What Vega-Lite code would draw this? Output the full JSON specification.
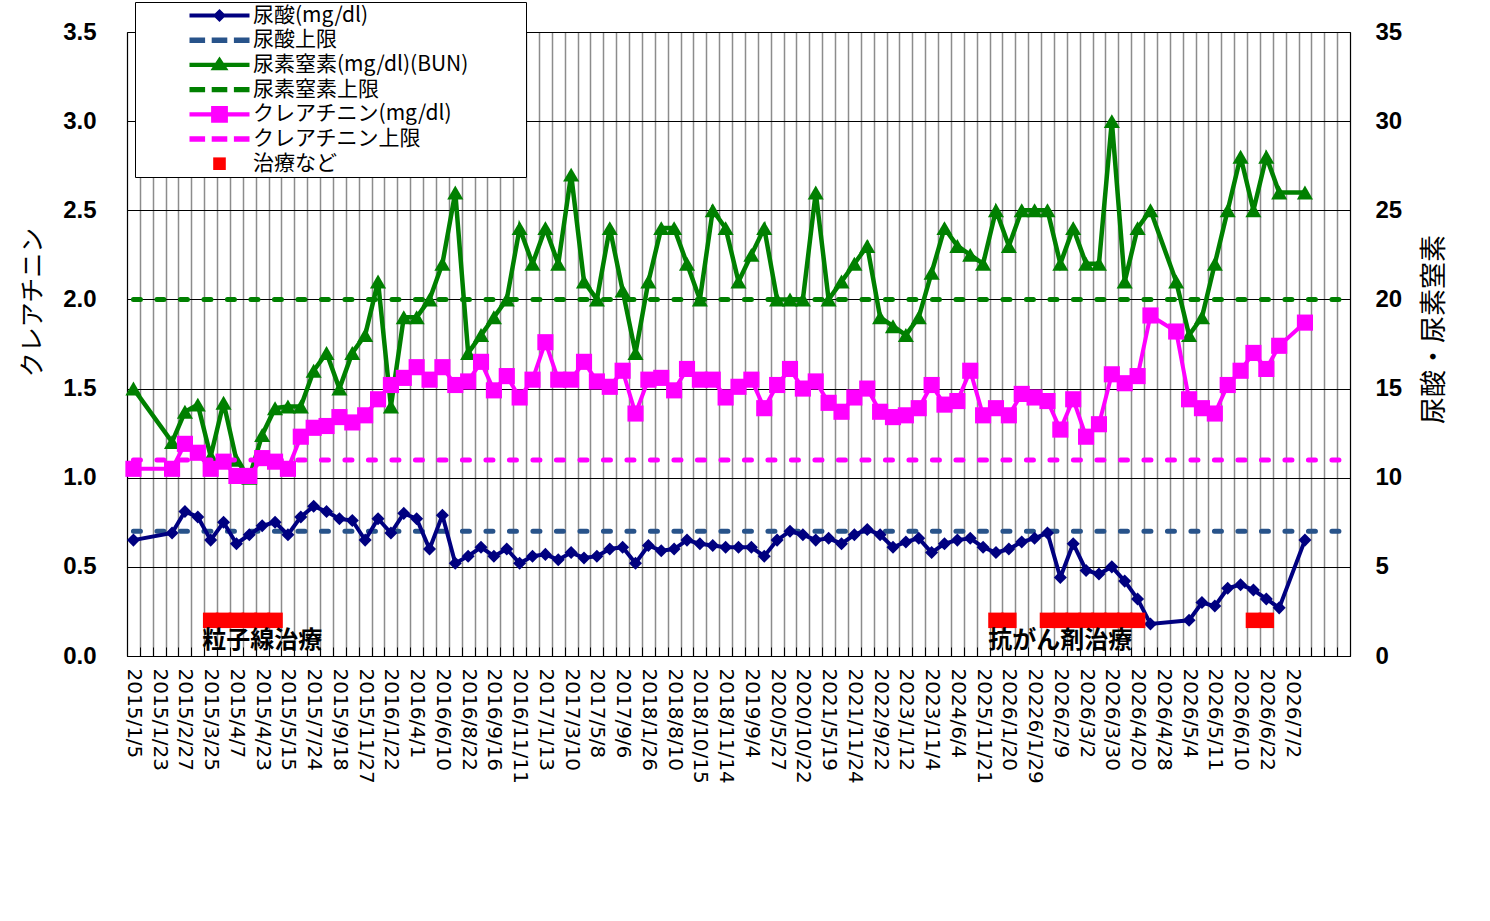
{
  "$schema": "https://vega.github.io/schema/vega-lite/v6.json",
  "width": 1223,
  "height": 624,
  "autosize": "none",
  "padding": {"left": 127, "top": 32, "right": 140, "bottom": 265},
  "background": "#ffffff",
  "datasets": {
    "lab": [
      {"d": "2015/1/5", "ua": 6.5, "bun": 15, "cr": 1.05},
      {"d": "#2"},
      {"d": "2015/1/23"},
      {"d": "#4", "ua": 6.9, "bun": 12, "cr": 1.05},
      {"d": "2015/2/27", "ua": 8.1, "bun": 13.7, "cr": 1.19},
      {"d": "#6", "ua": 7.8, "bun": 14.1, "cr": 1.14},
      {"d": "2015/3/25", "ua": 6.5, "bun": 11.2, "cr": 1.05, "tx": 2},
      {"d": "#8", "ua": 7.5, "bun": 14.2, "cr": 1.09, "tx": 2},
      {"d": "2015/4/7", "ua": 6.3, "bun": 11, "cr": 1.01, "tx": 2},
      {"d": "#10", "ua": 6.8, "bun": 10, "cr": 1.01, "tx": 2},
      {"d": "2015/4/23", "ua": 7.3, "bun": 12.4, "cr": 1.11, "tx": 2},
      {"d": "#12", "ua": 7.5, "bun": 13.9, "cr": 1.09, "tx": 2},
      {"d": "2015/5/15", "ua": 6.8, "bun": 14, "cr": 1.05},
      {"d": "#14", "ua": 7.8, "bun": 14, "cr": 1.23},
      {"d": "2015/7/24", "ua": 8.4, "bun": 16, "cr": 1.28},
      {"d": "#16", "ua": 8.1, "bun": 17, "cr": 1.29},
      {"d": "2015/9/18", "ua": 7.7, "bun": 15, "cr": 1.34},
      {"d": "#18", "ua": 7.6, "bun": 17, "cr": 1.31},
      {"d": "2015/11/27", "ua": 6.5, "bun": 18, "cr": 1.35},
      {"d": "#20", "ua": 7.7, "bun": 21, "cr": 1.44},
      {"d": "2016/1/22", "ua": 6.9, "bun": 14, "cr": 1.52},
      {"d": "#22", "ua": 8.0, "bun": 19, "cr": 1.56},
      {"d": "2016/4/1", "ua": 7.7, "bun": 19, "cr": 1.62},
      {"d": "#24", "ua": 6.0, "bun": 20, "cr": 1.55},
      {"d": "2016/6/10", "ua": 7.9, "bun": 22, "cr": 1.62},
      {"d": "#26", "ua": 5.2, "bun": 26, "cr": 1.52},
      {"d": "2016/8/22", "ua": 5.6, "bun": 17, "cr": 1.54},
      {"d": "#28", "ua": 6.1, "bun": 18, "cr": 1.65},
      {"d": "2016/9/16", "ua": 5.6, "bun": 19, "cr": 1.49},
      {"d": "#30", "ua": 6.0, "bun": 20, "cr": 1.57},
      {"d": "2016/11/11", "ua": 5.2, "bun": 24, "cr": 1.45},
      {"d": "#32", "ua": 5.6, "bun": 22, "cr": 1.55},
      {"d": "2017/1/13", "ua": 5.7, "bun": 24, "cr": 1.76},
      {"d": "#34", "ua": 5.4, "bun": 22, "cr": 1.55},
      {"d": "2017/3/10", "ua": 5.8, "bun": 27, "cr": 1.55},
      {"d": "#36", "ua": 5.5, "bun": 21, "cr": 1.65},
      {"d": "2017/5/8", "ua": 5.6, "bun": 20, "cr": 1.54},
      {"d": "#38", "ua": 6.0, "bun": 24, "cr": 1.51},
      {"d": "2017/9/6", "ua": 6.1, "bun": 20.5, "cr": 1.6},
      {"d": "#40", "ua": 5.2, "bun": 17, "cr": 1.36},
      {"d": "2018/1/26", "ua": 6.2, "bun": 21, "cr": 1.55},
      {"d": "#42", "ua": 5.9, "bun": 24, "cr": 1.56},
      {"d": "2018/8/10", "ua": 6.0, "bun": 24, "cr": 1.49},
      {"d": "#44", "ua": 6.5, "bun": 22, "cr": 1.61},
      {"d": "2018/10/15", "ua": 6.3, "bun": 20, "cr": 1.55},
      {"d": "#46", "ua": 6.2, "bun": 25, "cr": 1.55},
      {"d": "2018/11/14", "ua": 6.1, "bun": 24, "cr": 1.45},
      {"d": "#48", "ua": 6.1, "bun": 21, "cr": 1.51},
      {"d": "2019/9/4", "ua": 6.1, "bun": 22.5, "cr": 1.55},
      {"d": "#50", "ua": 5.6, "bun": 24, "cr": 1.39},
      {"d": "2020/5/27", "ua": 6.5, "bun": 20, "cr": 1.52},
      {"d": "#52", "ua": 7.0, "bun": 20, "cr": 1.61},
      {"d": "2020/10/22", "ua": 6.8, "bun": 20, "cr": 1.5},
      {"d": "#54", "ua": 6.5, "bun": 26, "cr": 1.54},
      {"d": "2021/5/19", "ua": 6.6, "bun": 20, "cr": 1.42},
      {"d": "#56", "ua": 6.3, "bun": 21, "cr": 1.37},
      {"d": "2021/11/24", "ua": 6.8, "bun": 22, "cr": 1.45},
      {"d": "#58", "ua": 7.1, "bun": 23, "cr": 1.5},
      {"d": "2022/9/22", "ua": 6.8, "bun": 19, "cr": 1.37},
      {"d": "#60", "ua": 6.1, "bun": 18.5, "cr": 1.34},
      {"d": "2023/1/12", "ua": 6.4, "bun": 18, "cr": 1.35},
      {"d": "#62", "ua": 6.6, "bun": 19, "cr": 1.39},
      {"d": "2023/11/4", "ua": 5.8, "bun": 21.5, "cr": 1.52},
      {"d": "#64", "ua": 6.3, "bun": 24, "cr": 1.41},
      {"d": "2024/6/4", "ua": 6.5, "bun": 23, "cr": 1.43},
      {"d": "#66", "ua": 6.6, "bun": 22.5, "cr": 1.6},
      {"d": "2025/11/21", "ua": 6.1, "bun": 22, "cr": 1.35},
      {"d": "#68", "ua": 5.8, "bun": 25, "cr": 1.39, "tx": 2},
      {"d": "2026/1/20", "ua": 6.0, "bun": 23, "cr": 1.35, "tx": 2},
      {"d": "#70", "ua": 6.4, "bun": 25, "cr": 1.47},
      {"d": "20226/1/29", "ua": 6.6, "bun": 25, "cr": 1.45},
      {"d": "#72", "ua": 6.9, "bun": 25, "cr": 1.43, "tx": 2},
      {"d": "2026/2/9", "ua": 4.4, "bun": 22, "cr": 1.27, "tx": 2},
      {"d": "#74", "ua": 6.3, "bun": 24, "cr": 1.44, "tx": 2},
      {"d": "2026/3/2", "ua": 4.8, "bun": 22, "cr": 1.23, "tx": 2},
      {"d": "#76", "ua": 4.6, "bun": 22, "cr": 1.3, "tx": 2},
      {"d": "2026/3/30", "ua": 5.0, "bun": 30, "cr": 1.58, "tx": 2},
      {"d": "#78", "ua": 4.2, "bun": 21, "cr": 1.53, "tx": 2},
      {"d": "2026/4/20", "ua": 3.2, "bun": 24, "cr": 1.57, "tx": 2},
      {"d": "#80", "ua": 1.8, "bun": 25, "cr": 1.91},
      {"d": "2026/4/28"},
      {"d": "#82", "bun": 21, "cr": 1.82},
      {"d": "2026/5/4", "ua": 2.0, "bun": 18, "cr": 1.44},
      {"d": "#84", "ua": 3.0, "bun": 19, "cr": 1.39},
      {"d": "2026/5/11", "ua": 2.8, "bun": 22, "cr": 1.36},
      {"d": "#86", "ua": 3.8, "bun": 25, "cr": 1.52},
      {"d": "2026/6/10", "ua": 4.0, "bun": 28, "cr": 1.6},
      {"d": "#88", "ua": 3.7, "bun": 25, "cr": 1.7, "tx": 2},
      {"d": "2026/6/22", "ua": 3.2, "bun": 28, "cr": 1.61, "tx": 2},
      {"d": "#90", "ua": 2.7, "bun": 26, "cr": 1.74},
      {"d": "2026/7/2"},
      {"d": "#92", "ua": 6.5, "bun": 26, "cr": 1.87},
      {"d": "#93"},
      {"d": "#94"},
      {"d": "#95"}
    ],
    "lim": [
      {"d": "2015/1/5", "s": "ua", "v": 7},
      {"d": "#95", "s": "ua", "v": 7},
      {"d": "2015/1/5", "s": "bun", "v": 20},
      {"d": "#95", "s": "bun", "v": 20},
      {"d": "2015/1/5", "s": "cr", "v": 1.1},
      {"d": "#95", "s": "cr", "v": 1.1}
    ],
    "notes": [
      {"d": "2015/4/23", "note": "粒子線治療", "v": 2},
      {"d": "2026/2/9", "note": "抗がん剤治療", "v": 2}
    ]
  },
  "data": {"name": "lab"},
  "encoding": {
    "x": {
      "field": "d",
      "type": "nominal",
      "sort": ["2015/1/5","#2","2015/1/23","#4","2015/2/27","#6","2015/3/25","#8","2015/4/7","#10","2015/4/23","#12","2015/5/15","#14","2015/7/24","#16","2015/9/18","#18","2015/11/27","#20","2016/1/22","#22","2016/4/1","#24","2016/6/10","#26","2016/8/22","#28","2016/9/16","#30","2016/11/11","#32","2017/1/13","#34","2017/3/10","#36","2017/5/8","#38","2017/9/6","#40","2018/1/26","#42","2018/8/10","#44","2018/10/15","#46","2018/11/14","#48","2019/9/4","#50","2020/5/27","#52","2020/10/22","#54","2021/5/19","#56","2021/11/24","#58","2022/9/22","#60","2023/1/12","#62","2023/11/4","#64","2024/6/4","#66","2025/11/21","#68","2026/1/20","#70","20226/1/29","#72","2026/2/9","#74","2026/3/2","#76","2026/3/30","#78","2026/4/20","#80","2026/4/28","#82","2026/5/4","#84","2026/5/11","#86","2026/6/10","#88","2026/6/22","#90","2026/7/2","#92","#93","#94","#95"],
      "scale": {
        "type": "band",
        "paddingInner": 0,
        "paddingOuter": 0,
        "domain": ["2015/1/5","#2","2015/1/23","#4","2015/2/27","#6","2015/3/25","#8","2015/4/7","#10","2015/4/23","#12","2015/5/15","#14","2015/7/24","#16","2015/9/18","#18","2015/11/27","#20","2016/1/22","#22","2016/4/1","#24","2016/6/10","#26","2016/8/22","#28","2016/9/16","#30","2016/11/11","#32","2017/1/13","#34","2017/3/10","#36","2017/5/8","#38","2017/9/6","#40","2018/1/26","#42","2018/8/10","#44","2018/10/15","#46","2018/11/14","#48","2019/9/4","#50","2020/5/27","#52","2020/10/22","#54","2021/5/19","#56","2021/11/24","#58","2022/9/22","#60","2023/1/12","#62","2023/11/4","#64","2024/6/4","#66","2025/11/21","#68","2026/1/20","#70","20226/1/29","#72","2026/2/9","#74","2026/3/2","#76","2026/3/30","#78","2026/4/20","#80","2026/4/28","#82","2026/5/4","#84","2026/5/11","#86","2026/6/10","#88","2026/6/22","#90","2026/7/2","#92","#93","#94","#95"]
      },
      "axis": {
        "title": null,
        "tickBand": "extent",
        "grid": true,
        "gridColor": "#8c8c8c",
        "gridWidth": 1.5,
        "ticks": true,
        "tickColor": "#000000",
        "tickWidth": 1,
        "tickSize": -9,
        "domain": true,
        "domainColor": "#000000",
        "domainWidth": 1,
        "labelAngle": 90,
        "labelFont": "DejaVu Sans",
        "labelFontSize": 20,
        "labelColor": "#000000",
        "labelPadding": 21,
        "labelOverlap": false,
        "labelLimit": 300,
        "labelExpr": "indexof(datum.label, '#') === 0 ? '' : datum.label"
      }
    }
  },
  "layer": [
    {
      "encoding": {
        "y": {
          "field": "v",
          "type": "quantitative",
          "scale": {"domain": [0, 35], "nice": false},
          "axis": {
            "orient": "right",
            "values": [0, 5, 10, 15, 20, 25, 30, 35],
            "format": "d",
            "grid": false,
            "ticks": false,
            "domain": true,
            "domainColor": "#000000",
            "domainWidth": 1,
            "labelFont": "Liberation Sans",
            "labelFontSize": 24,
            "labelFontWeight": "bold",
            "labelColor": "#000000",
            "labelPadding": 25,
            "title": "尿酸・尿素窒素",
            "titleFont": "Noto Sans CJK JP",
            "titleFontSize": 27,
            "titleFontWeight": "normal",
            "titleColor": "#000000",
            "titleAngle": 270,
            "titleX": 84,
            "titleY": 297,
            "titleAlign": "center",
            "titleBaseline": "middle"
          }
        }
      },
      "layer": [
        {
          "data": {"name": "lim"},
          "transform": [{"filter": "datum.s === 'ua'"}],
          "mark": {"type": "line", "color": "#28538A", "strokeWidth": 5, "strokeDash": [7, 16.5], "strokeCap": "round"}
        },
        {
          "data": {"name": "lim"},
          "transform": [{"filter": "datum.s === 'bun'"}],
          "mark": {"type": "line", "color": "#008000", "strokeWidth": 5, "strokeDash": [7, 16.5], "strokeCap": "round"}
        },
        {
          "transform": [{"fold": ["ua", "bun", "tx"], "as": ["s", "v"]}, {"filter": "datum.s === 'ua' && isValid(datum.v)"}],
          "mark": {"type": "line", "color": "#000080", "strokeWidth": 4}
        },
        {
          "transform": [{"fold": ["ua", "bun", "tx"], "as": ["s", "v"]}, {"filter": "datum.s === 'ua' && isValid(datum.v)"}],
          "mark": {"type": "point", "shape": "diamond", "filled": true, "size": 170, "color": "#000080", "opacity": 1}
        },
        {
          "transform": [{"fold": ["ua", "bun", "tx"], "as": ["s", "v"]}, {"filter": "datum.s === 'bun' && isValid(datum.v)"}],
          "mark": {"type": "line", "color": "#008000", "strokeWidth": 4.5}
        },
        {
          "transform": [{"fold": ["ua", "bun", "tx"], "as": ["s", "v"]}, {"filter": "datum.s === 'bun' && isValid(datum.v)"}],
          "mark": {"type": "point", "shape": "triangle-up", "filled": true, "size": 260, "color": "#008000", "opacity": 1}
        },
        {
          "transform": [{"fold": ["ua", "bun", "tx"], "as": ["s", "v"]}, {"filter": "datum.s === 'tx' && isValid(datum.v)"}],
          "mark": {"type": "point", "shape": "square", "filled": true, "size": 240, "color": "#FF0000", "opacity": 1}
        },
        {
          "data": {"name": "notes"},
          "mark": {"type": "text", "font": "Noto Sans CJK JP", "fontSize": 24, "fontWeight": "bold", "color": "#000000", "align": "center", "baseline": "middle", "dy": 21},
          "encoding": {"text": {"field": "note", "type": "nominal"}}
        },
        {
          "transform": [{"filter": "false"}],
          "mark": {"type": "point", "filled": true, "opacity": 1, "size": 144, "strokeWidth": 0},
          "encoding": {
            "color": {
              "field": "s",
              "type": "nominal",
              "scale": {
                "domain": ["尿酸(mg/dl)", "尿酸上限", "尿素窒素(mg/dl)(BUN)", "尿素窒素上限", "クレアチニン(mg/dl)", "クレアチニン上限", "治療など"],
                "range": ["#000080", "#28538A", "#008000", "#008000", "#FF00FF", "#FF00FF", "#FF0000"]
              },
              "legend": {
                "orient": "none", "legendX": 8, "legendY": -30, "title": " ",
                "titleOrient": "right", "titlePadding": 55, "titleFontSize": 4,
                "fillColor": "#ffffff", "strokeColor": "#000000", "padding": 3,
                "labelFont": "Noto Sans CJK JP", "labelFontSize": 21, "labelColor": "#000000",
                "symbolSize": 144, "symbolStrokeWidth": 0, "symbolOffset": 71, "labelOffset": 23,
                "rowPadding": 2.7, "labelLimit": 500
              }
            },
            "shape": {
              "field": "s",
              "type": "nominal",
              "scale": {
                "domain": ["尿酸(mg/dl)", "尿酸上限", "尿素窒素(mg/dl)(BUN)", "尿素窒素上限", "クレアチニン(mg/dl)", "クレアチニン上限", "治療など"],
                "range": [
                  "M-5,-0.33H5V0.33H-5Z M0,-1.1L1.1,0L0,1.1L-1.1,0Z",
                  "M-5,-0.45H-2.4V0.45H-5Z M-1.3,-0.45H1.3V0.45H-1.3Z M2.4,-0.45H5V0.45H2.4Z",
                  "M-5,-0.35H5V0.35H-5Z M0,-1.4L1.5,0.9H-1.5Z",
                  "M-5,-0.45H-2.4V0.45H-5Z M-1.3,-0.45H1.3V0.45H-1.3Z M2.4,-0.45H5V0.45H2.4Z",
                  "M-5,-0.35H5V0.35H-5Z M-1.4,-1.4H1.4V1.4H-1.4Z",
                  "M-5,-0.45H-2.4V0.45H-5Z M-1.3,-0.45H1.3V0.45H-1.3Z M2.4,-0.45H5V0.45H2.4Z",
                  "M-1.05,-1.05H1.05V1.05H-1.05Z"
                ]
              },
              "legend": {
                "orient": "none", "legendX": 8, "legendY": -30, "title": " ",
                "titleOrient": "right", "titlePadding": 55, "titleFontSize": 4,
                "fillColor": "#ffffff", "strokeColor": "#000000", "padding": 3,
                "labelFont": "Noto Sans CJK JP", "labelFontSize": 21, "labelColor": "#000000",
                "symbolSize": 144, "symbolStrokeWidth": 0, "symbolOffset": 71, "labelOffset": 23,
                "rowPadding": 2.7, "labelLimit": 500
              }
            }
          }
        }
      ]
    },
    {
      "encoding": {
        "y": {
          "field": "v",
          "type": "quantitative",
          "scale": {"domain": [0, 3.5], "nice": false},
          "axis": {
            "orient": "left",
            "values": [0, 0.5, 1, 1.5, 2, 2.5, 3, 3.5],
            "format": ".1f",
            "grid": true,
            "gridColor": "#000000",
            "gridWidth": 1,
            "ticks": false,
            "domain": true,
            "domainColor": "#000000",
            "domainWidth": 1,
            "labelFont": "Liberation Sans",
            "labelFontSize": 24,
            "labelFontWeight": "bold",
            "labelColor": "#000000",
            "labelPadding": 31,
            "title": "クレアチニン",
            "titleFont": "Noto Sans CJK JP",
            "titleFontSize": 25,
            "titleFontWeight": "normal",
            "titleColor": "#000000",
            "titleAngle": 270,
            "titleX": -95,
            "titleY": 270,
            "titleAlign": "center",
            "titleBaseline": "middle"
          }
        }
      },
      "layer": [
        {
          "transform": [{"fold": ["cr"], "as": ["s", "v"]}, {"filter": "isValid(datum.v)"}],
          "mark": {"type": "line", "color": "#FF00FF", "strokeWidth": 4}
        },
        {
          "transform": [{"fold": ["cr"], "as": ["s", "v"]}, {"filter": "isValid(datum.v)"}],
          "mark": {"type": "point", "shape": "square", "filled": true, "size": 260, "color": "#FF00FF", "opacity": 1}
        },
        {
          "data": {"name": "lim"},
          "transform": [{"filter": "datum.s === 'cr'"}],
          "mark": {"type": "line", "color": "#FF00FF", "strokeWidth": 5, "strokeDash": [7, 16.5], "strokeCap": "round"}
        }
      ]
    }
  ],
  "resolve": {"scale": {"y": "independent"}},
  "config": {
    "view": {"stroke": "#000000", "strokeWidth": 1},
    "font": "Liberation Sans"
  }
}
